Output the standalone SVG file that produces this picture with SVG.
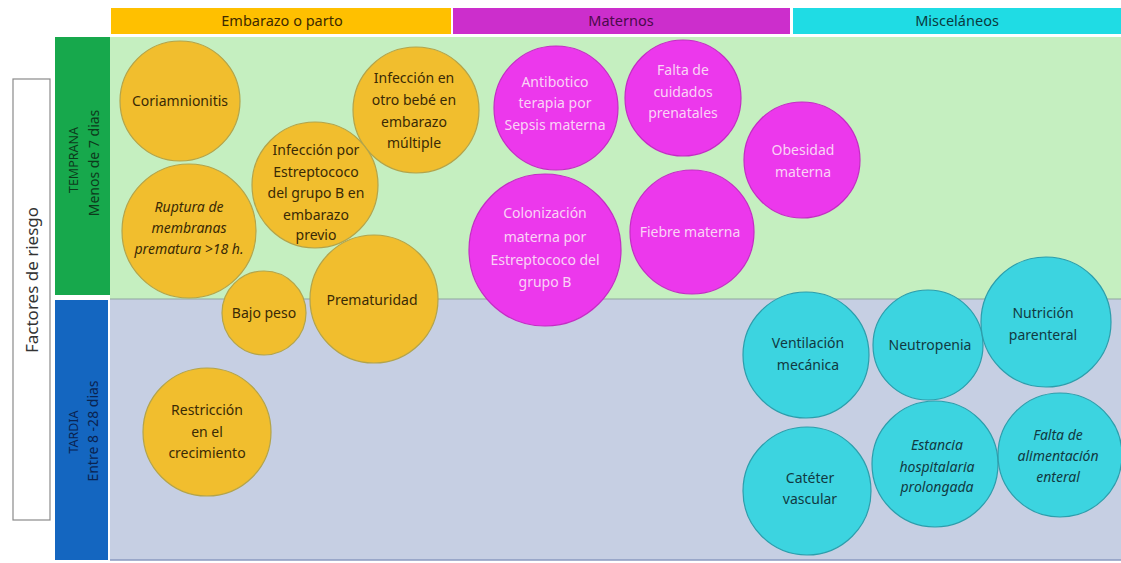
<svg xmlns="http://www.w3.org/2000/svg" width="1121" height="563" viewBox="0 0 1121 563">
<style>
text{font-family:"Noto Sans","Open Sans","Liberation Sans",sans-serif;text-anchor:middle}
.h{font-size:14.5px}
.t{font-size:14px}
.it{font-style:italic}
.cap{font-size:12.5px}
.sub{font-size:14px}
.oc{fill:#F1BE2E;stroke:#B3A44A;stroke-width:1.2}
.ot{fill:#3a2a05}
.mc{fill:#EC38EC;stroke:#C42CC4;stroke-width:1.2}
.mt{fill:#FAD3F6}
.cc{fill:#3CD4E0;stroke:#2C9EAC;stroke-width:1.2}
.ct{fill:#113a42}
</style>
<rect width="1121" height="563" fill="#ffffff"/>
<g id="bands">
<rect x="110" y="37" width="1011" height="262" fill="#C5EFC0"/>
<rect x="110" y="299" width="1011" height="261" fill="#C6CFE3"/>
<line x1="110" y1="299" x2="1121" y2="299" stroke="#8FA6A0" stroke-width="1.2"/>
<line x1="110" y1="560" x2="1121" y2="560" stroke="#8A9AC0" stroke-width="1.5"/>
</g>
<g id="header-embarazo">
<rect x="111" y="8" width="340" height="26" fill="#FFC000"/>
<text class="h" x="282" y="26" fill="#3d2a00">Embarazo o parto</text>
</g>
<g id="header-maternos">
<rect x="453" y="8" width="337" height="26" fill="#CC2ECC"/>
<text class="h" x="621" y="26" fill="#4a0a4a">Maternos</text>
</g>
<g id="header-miscelaneos">
<rect x="793" y="8" width="328" height="26" fill="#1FDCE4"/>
<text class="h" x="957" y="26" fill="#0a3a40">Misceláneos</text>
</g>
<g id="factores">
<rect x="13" y="79" width="37" height="441" fill="#ffffff" stroke="#8a8a8a" stroke-width="1.2"/>
<text x="0" y="0" font-size="17px" fill="#333" transform="translate(38,280) rotate(-90)">Factores de riesgo</text>
</g>
<g id="temprana">
<rect x="55" y="37" width="55" height="258" fill="#17A84C"/>
<text class="cap" x="0" y="0" fill="#0d3a1c" transform="translate(78,160) rotate(-90)">TEMPRANA</text>
<text class="sub" x="0" y="0" fill="#0d3a1c" transform="translate(99,163) rotate(-90)">Menos de 7 dias</text>
</g>
<g id="tardia">
<rect x="55" y="300" width="53" height="260" fill="#1466C0"/>
<text class="cap" x="0" y="0" fill="#0a2350" transform="translate(78,432) rotate(-90)">TARDIA</text>
<text class="sub" x="0" y="0" fill="#0a2350" transform="translate(98,431) rotate(-90)">Entre 8 -28 dias</text>
</g>
<g id="connectors"></g>
<g id="coriamnionitis"><circle class="oc" cx="180" cy="101" r="60"/><text class="t ot" x="180" y="106">Coriamnionitis</text></g>
<g id="ruptura"><circle class="oc" cx="189" cy="231" r="67"/><text class="t ot it"><tspan x="189" y="212">Ruptura de</tspan><tspan x="189" y="233">membranas</tspan><tspan x="189" y="254">prematura &gt;18 h.</tspan></text></g>
<g id="infeccion-otro"><circle class="oc" cx="416" cy="110" r="63"/><text class="t ot"><tspan x="414" y="83">Infección en</tspan><tspan x="414" y="105">otro bebé en</tspan><tspan x="414" y="127">embarazo</tspan><tspan x="414" y="148">múltiple</tspan></text></g>
<g id="prematuridad"><circle class="oc" cx="374" cy="299" r="64"/><text class="t ot" x="372" y="305">Prematuridad</text></g>
<g id="infeccion-estrepto"><circle class="oc" cx="315" cy="185" r="63"/><text class="t ot"><tspan x="316" y="155">Infección por</tspan><tspan x="316" y="177">Estreptococo</tspan><tspan x="316" y="198">del grupo B en</tspan><tspan x="316" y="220">embarazo</tspan><tspan x="316" y="240">previo</tspan></text></g>
<g id="bajo-peso"><circle class="oc" cx="264" cy="313" r="42"/><text class="t ot" x="264" y="318">Bajo peso</text></g>
<g id="restriccion"><circle class="oc" cx="207" cy="432" r="64"/><text class="t ot"><tspan x="207" y="415">Restricción</tspan><tspan x="207" y="437">en el</tspan><tspan x="207" y="458">crecimiento</tspan></text></g>
<g id="antibiotico"><circle class="mc" cx="556" cy="108" r="62"/><text class="t mt"><tspan x="555" y="87">Antibotico</tspan><tspan x="555" y="108">terapia por</tspan><tspan x="555" y="130">Sepsis materna</tspan></text></g>
<g id="falta-cuidados"><circle class="mc" cx="683" cy="98" r="58"/><text class="t mt"><tspan x="683" y="75">Falta de</tspan><tspan x="683" y="97">cuidados</tspan><tspan x="683" y="118">prenatales</tspan></text></g>
<g id="obesidad"><circle class="mc" cx="802" cy="160" r="58"/><text class="t mt"><tspan x="803" y="155">Obesidad</tspan><tspan x="803" y="177">materna</tspan></text></g>
<g id="colonizacion"><circle class="mc" cx="545" cy="250" r="76"/><text class="t mt"><tspan x="545" y="218">Colonización</tspan><tspan x="545" y="242">materna por</tspan><tspan x="545" y="265">Estreptococo del</tspan><tspan x="545" y="287">grupo B</tspan></text></g>
<g id="fiebre"><circle class="mc" cx="692" cy="232" r="62"/><text class="t mt" x="690" y="237">Fiebre materna</text></g>
<g id="ventilacion"><circle class="cc" cx="806" cy="355" r="63"/><text class="t ct"><tspan x="808" y="348">Ventilación</tspan><tspan x="808" y="370">mecánica</tspan></text></g>
<g id="neutropenia"><circle class="cc" cx="928" cy="345" r="55"/><text class="t ct" x="930" y="350">Neutropenia</text></g>
<g id="nutricion"><circle class="cc" cx="1046" cy="322" r="65"/><text class="t ct"><tspan x="1043" y="318">Nutrición</tspan><tspan x="1043" y="340">parenteral</tspan></text></g>
<g id="cateter"><circle class="cc" cx="807" cy="491" r="64"/><text class="t ct"><tspan x="810" y="483">Catéter</tspan><tspan x="810" y="504">vascular</tspan></text></g>
<g id="estancia"><circle class="cc" cx="935" cy="464" r="63"/><text class="t ct it"><tspan x="937" y="450">Estancia</tspan><tspan x="937" y="472">hospitalaria</tspan><tspan x="937" y="492">prolongada</tspan></text></g>
<g id="falta-alimentacion"><circle class="cc" cx="1060" cy="455" r="62"/><text class="t ct it"><tspan x="1058" y="440">Falta de</tspan><tspan x="1058" y="461">alimentación</tspan><tspan x="1058" y="482">enteral</tspan></text></g>
</svg>
